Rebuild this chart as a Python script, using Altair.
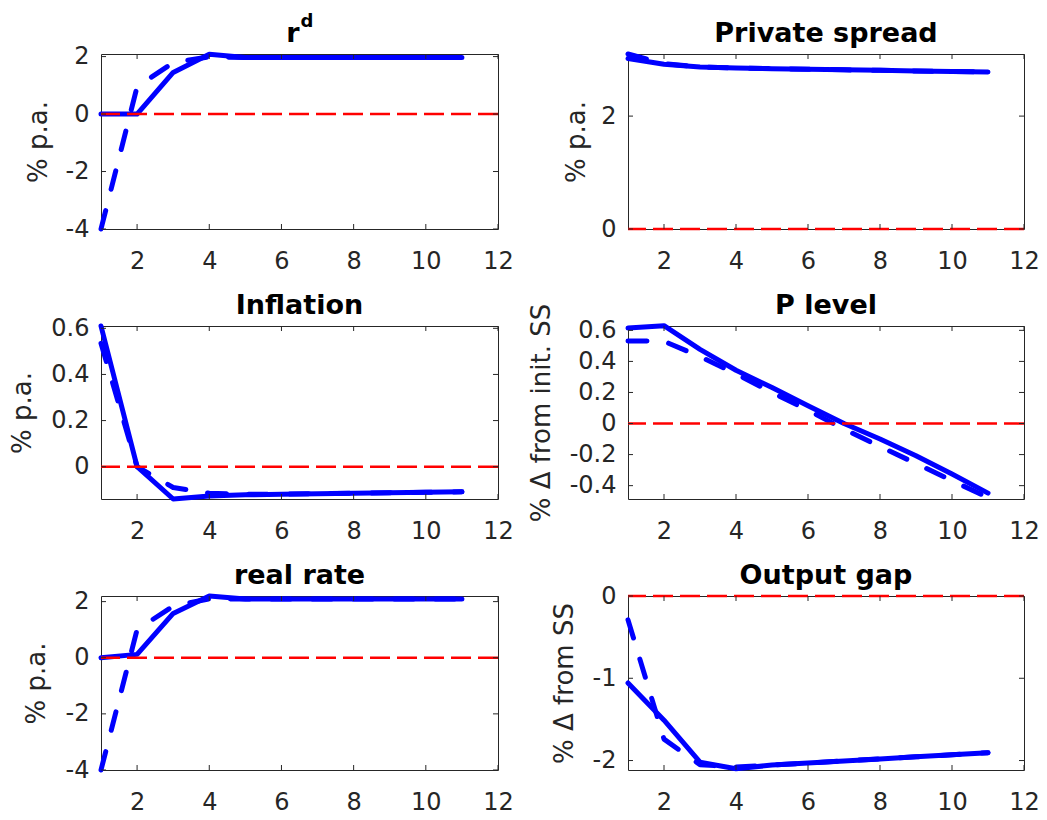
import altair as alt
import pandas as pd

periods = list(range(1, 12))
x_ticks = [2, 4, 6, 8, 10, 12]

# r^d
rd_solid = [0.0, 0.0, 1.45, 2.08, 1.97, 1.97, 1.97, 1.97, 1.97, 1.97, 1.97]
rd_dash = [-4.0, 0.95, 1.79, 1.99, 1.97, 1.97, 1.97, 1.97, 1.97, 1.97, 1.97]
# Private spread
ps_solid = [3.02, 2.92, 2.87, 2.85, 2.84, 2.83, 2.82, 2.81, 2.80, 2.79, 2.78]
ps_dash = [3.10, 2.93, 2.87, 2.85, 2.84, 2.83, 2.82, 2.81, 2.80, 2.79, 2.78]
# Inflation
inf_solid = [0.61, 0.0, -0.14, -0.127, -0.122, -0.119, -0.117, -0.115, -0.113, -0.111, -0.109]
inf_dash = [0.535, 0.0, -0.09, -0.115, -0.12, -0.119, -0.117, -0.115, -0.113, -0.111, -0.109]
# P level
pl_solid = [0.615, 0.63, 0.478, 0.343, 0.232, 0.114, 0.0, -0.10, -0.208, -0.325, -0.448]
pl_dash = [0.532, 0.53, 0.431, 0.32, 0.20, 0.086, -0.036, -0.148, -0.257, -0.368, -0.476]
# real rate
rr_solid = [0.0, 0.12, 1.58, 2.2, 2.09, 2.09, 2.09, 2.09, 2.09, 2.09, 2.09]
rr_dash = [-4.0, 1.0, 1.84, 2.1, 2.09, 2.09, 2.09, 2.09, 2.09, 2.09, 2.09]
# Output gap
og_solid = [-1.057, -1.51, -2.02, -2.1, -2.055, -2.03, -2.005, -1.98, -1.955, -1.93, -1.905]
og_dash = [-0.29, -1.74, -2.05, -2.08, -2.055, -2.03, -2.005, -1.98, -1.955, -1.93, -1.905]

BLUE = "#0000ff"
RED = "#ff0000"
AX = "#262626"
FONT = "DejaVu Sans"

LABEL_EXPR = "datum.value < 0 ? '-' + format(-datum.value, '~g') : format(datum.value, '~g')"


def title_layers(title, w, sup=None):
    layers = []
    if sup is None:
        layers.append(alt.Chart(pd.DataFrame({"label": [title]})).mark_text(
            font=FONT, fontSize=27, fontWeight="bold", color="black",
            align="center", baseline="alphabetic"
        ).encode(text="label:N", x=alt.value(w / 2), y=alt.value(-12)))
    else:
        layers.append(alt.Chart(pd.DataFrame({"label": [title]})).mark_text(
            font=FONT, fontSize=27, fontWeight="bold", color="black",
            align="right", baseline="alphabetic"
        ).encode(text="label:N", x=alt.value(w / 2), y=alt.value(-12)))
        layers.append(alt.Chart(pd.DataFrame({"label": [sup]})).mark_text(
            font=FONT, fontSize=18, fontWeight="bold", color="black",
            align="left", baseline="alphabetic"
        ).encode(text="label:N", x=alt.value(w / 2 + 1), y=alt.value(-27)))
    return layers


def panel(title, ytitle, title_x, y_domain, y_ticks, solid, dashed, w, h, sup=None):
    xs = alt.Scale(domain=[1, 12], nice=False, zero=False)
    ys = alt.Scale(domain=y_domain, nice=False, zero=False)
    xaxis = alt.Axis(values=x_ticks, title=None, labelPadding=20, labelFlush=False,
                     labelOverlap=False)
    yaxis = alt.Axis(values=y_ticks, title=ytitle, titleX=title_x, titleBaseline="middle",
                     labelPadding=12, labelFlush=False, labelOverlap=False,
                     labelExpr=LABEL_EXPR)
    X = lambda f: alt.X(f, scale=xs, axis=xaxis)
    Y = lambda f: alt.Y(f, scale=ys, axis=yaxis)
    solid_l = alt.Chart(pd.DataFrame({"t": periods, "v": solid})).mark_line(
        color=BLUE, strokeWidth=5, strokeCap="round", strokeJoin="round"
    ).encode(x=X("t:Q"), y=Y("v:Q"))
    dashed_l = alt.Chart(pd.DataFrame({"t": periods, "v": dashed})).mark_line(
        color=BLUE, strokeWidth=5, strokeCap="round", strokeJoin="round", strokeDash=[19, 22]
    ).encode(x=X("t:Q"), y=Y("v:Q"))
    zero = alt.Chart(pd.DataFrame({"v": [0]})).mark_rule(
        color=RED, strokeWidth=2.5, strokeDash=[20, 7]
    ).encode(y=Y("v:Q"))
    xt = pd.DataFrame({"t": x_ticks})
    yt = pd.DataFrame({"v": y_ticks})
    tick = dict(color=AX, strokeWidth=1)
    bottom = alt.Chart(xt).mark_rule(**tick).encode(
        x=X("t:Q"), y=alt.value(h), y2=alt.value(h - 5))
    top = alt.Chart(xt).mark_rule(**tick).encode(
        x=X("t:Q"), y=alt.value(0), y2=alt.value(5))
    left = alt.Chart(yt).mark_rule(**tick).encode(
        y=Y("v:Q"), x=alt.value(0), x2=alt.value(5))
    right = alt.Chart(yt).mark_rule(**tick).encode(
        y=Y("v:Q"), x=alt.value(w), x2=alt.value(w - 5))
    return alt.layer(solid_l, dashed_l, zero, bottom, top, left, right,
                     *title_layers(title, w, sup)).properties(width=w, height=h)


W1, W2 = 397, 396
p1 = panel("r", "% p.a.", -63, [-4, 2.09], [-4, -2, 0, 2], rd_solid, rd_dash, W1, 175, sup="d")
p2 = panel("Private spread", "% p.a.", -52, [0, 3.1], [0, 2], ps_solid, ps_dash, W2, 175)
p3 = panel("Inflation", "% p.a.", -79, [-0.14, 0.61], [0, 0.2, 0.4, 0.6], inf_solid, inf_dash, W1, 173)
p4 = panel("P level", "% Δ from init. SS", -87, [-0.486, 0.628], [-0.4, -0.2, 0, 0.2, 0.4, 0.6],
           pl_solid, pl_dash, W2, 173)
p5 = panel("real rate", "% p.a.", -65, [-4, 2.2], [-4, -2, 0, 2], rr_solid, rr_dash, W1, 174)
p6 = panel("Output gap", "% Δ from SS", -64, [-2.115, 0], [-2, -1, 0], og_solid, og_dash, W2, 174)

chart = alt.concat(p1, p2, p3, p4, p5, p6, columns=2, spacing={"row": 97, "column": 130},
                   bounds="flush").properties(
    padding={"left": 8, "top": 12, "right": 5, "bottom": 5},
    background="white",
).configure_view(stroke=AX, strokeWidth=1).configure_axis(
    domain=False, ticks=False, tickSize=0, grid=False,
    labelFont=FONT, labelFontSize=24, labelColor=AX,
    titleFont=FONT, titleFontSize=26, titleFontWeight="normal", titleColor=AX,
)

chart.save("out.html", embed_options={"renderer": "svg", "actions": False})
